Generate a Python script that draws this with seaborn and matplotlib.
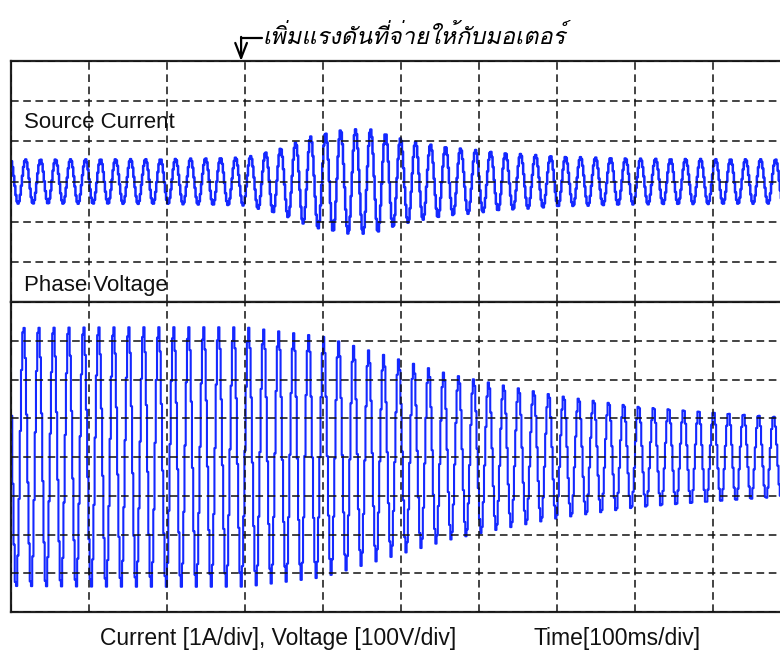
"""
Oscilloscope-style capture: source current and phase voltage while the
motor supply voltage is changed.
Saves: out.png
"""
import matplotlib
matplotlib.use("Agg")
import matplotlib.pyplot as plt
import numpy as np
import pandas as pd
import seaborn as sns
from matplotlib import font_manager
from matplotlib.ft2font import FT2Font

# envelope readings (time in ms, amplitude in divisions)
current_t = [0, 200, 300, 330, 349, 368, 387, 426, 464, 503, 522, 563, 627, 704, 806, 1000]
current_amp = [0.55, 0.56, 0.6, 0.75, 0.85, 1.0, 1.15, 1.3, 1.3, 1.05, 0.97, 0.85, 0.72, 0.62, 0.57, 0.55]

voltage_t = [0, 300, 400, 500, 560, 620, 700, 800, 900, 1000]
voltage_amp = [3.4, 3.35, 3.1, 2.5, 2.15, 1.9, 1.6, 1.33, 1.18, 1.03]

FREQ_HZ = 52.0
CURRENT_STEP_MS = 1.4
VOLTAGE_STEP_MS = 1.6
CURRENT_PHASE = -4.31
VOLTAGE_PHASE = -3.46

x_divs = list(range(0, 1001, 100))
current_divs = list(range(-3, 4))
voltage_divs = list(range(-4, 5))

ANNOTATION = "เพิ่มแรงดันที่จ่ายให้กับมอเตอร์"
EVENT_MS = 295
BLUE = "#1428ff"
PREFERRED_THAI = ["Loma", "Garuda", "Waree", "Umpush", "Tlwg Typo"]


def pick_thai_font():
    found = []
    for fe in font_manager.fontManager.ttflist:
        try:
            cmap = FT2Font(fe.fname).get_charmap()
        except Exception:
            continue
        if 0x0E01 in cmap and 0x0E34 in cmap:
            found.append(fe.name)
    for name in PREFERRED_THAI:
        if name in found:
            return [name]
    return found[:1]


def stepped_trace(knot_t, knot_amp, phase, step):
    t = np.arange(0, 1000 + step, step)
    amp = np.interp(t, knot_t, knot_amp)
    y = amp * np.sin(2 * np.pi * FREQ_HZ * t / 1000.0 + phase)
    return pd.DataFrame({"t": t, "y": y})


def style_panel(ax, ydivs):
    ax.set_xlim(0, 1000)
    ax.set_ylim(ydivs[0], ydivs[-1])
    ax.set_xticks(x_divs)
    ax.set_yticks(ydivs)
    ax.set_xticklabels([])
    ax.set_yticklabels([])
    ax.tick_params(length=0)
    ax.set_xlabel("")
    ax.set_ylabel("")
    ax.set_axisbelow(False)
    ax.grid(True, color="#111111", linestyle=(0, (5, 3)), linewidth=1.1)
    for sp in ax.spines.values():
        sp.set_color("#222222")
        sp.set_linewidth(1.6)


sns.set_theme(style="white")
thai_family = pick_thai_font() + ["DejaVu Sans"]
plt.rcParams["font.family"] = ["Liberation Sans", "DejaVu Sans"]

fig = plt.figure(figsize=(7.8, 6.5), dpi=100)
W, H = 780.0, 650.0
ax_top = fig.add_axes([11 / W, (H - 302) / H, 780 / W, 241 / H])
ax_bot = fig.add_axes([11 / W, (H - 612) / H, 780 / W, 310 / H])

cur = stepped_trace(current_t, current_amp, CURRENT_PHASE, CURRENT_STEP_MS)
vol = stepped_trace(voltage_t, voltage_amp, VOLTAGE_PHASE, VOLTAGE_STEP_MS)

sns.lineplot(data=cur, x="t", y="y", ax=ax_top, color=BLUE, linewidth=1.8,
             drawstyle="steps-post", estimator=None, sort=False)
sns.lineplot(data=vol, x="t", y="y", ax=ax_bot, color=BLUE, linewidth=1.5,
             drawstyle="steps-post", estimator=None, sort=False)

style_panel(ax_top, current_divs)
style_panel(ax_bot, voltage_divs)

ax_top.text(13 / 780, (302 - 123) / 241, "Source Current", transform=ax_top.transAxes,
            fontsize=16, va="center", ha="left", color="#111111")
ax_top.text(13 / 780, (302 - 285) / 241, "Phase Voltage", transform=ax_top.transAxes,
            fontsize=16, va="center", ha="left", color="#111111")

fig.text(278 / W, 1 - 638 / H, "Current [1A/div], Voltage [100V/div]",
         fontsize=16.5, ha="center", va="center", color="#111111")
fig.text(617 / W, 1 - 638 / H, "Time[100ms/div]",
         fontsize=16.5, ha="center", va="center", color="#111111")

# annotation with an L-shaped arrow down to the top border
fig.text(263 / W, 1 - 37 / H, ANNOTATION, family=thai_family, style="italic",
         fontsize=17, ha="left", va="center", color="black")
ax_top.plot([EVENT_MS, EVENT_MS + 27], [3.57, 3.57], color="black", lw=1.6,
            clip_on=False)
ax_top.annotate("", xy=(EVENT_MS, 3.0), xytext=(EVENT_MS, 3.6),
                annotation_clip=False,
                arrowprops=dict(arrowstyle="->,head_length=0.9,head_width=0.35",
                                color="black", lw=1.6, shrinkA=0, shrinkB=0))

fig.savefig("out.png", dpi=100)
plt.close(fig)
